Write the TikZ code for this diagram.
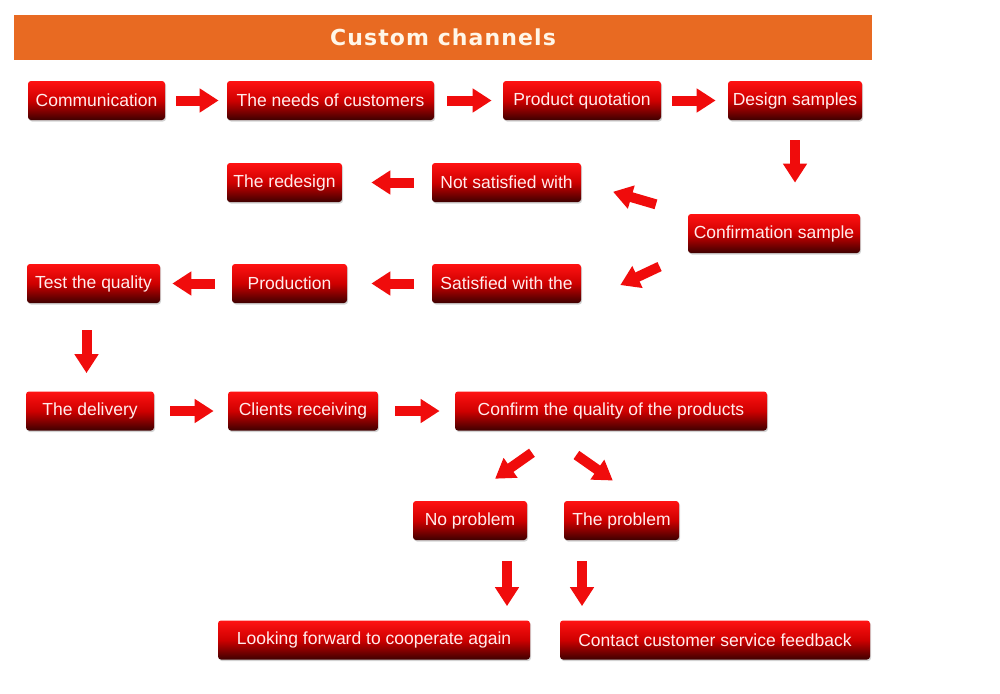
\documentclass[tikz,border=0pt]{standalone}
\usepackage{fontspec}
\usetikzlibrary{arrows.meta,shadows}
\newfontfamily\boxfont{Liberation Sans}
\newfontfamily\titlefont[LetterSpace=5]{DejaVu Sans}

\definecolor{hdrorange}{RGB}{232,106,34}
\definecolor{boxtop}{RGB}{255,18,18}
\definecolor{boxmid}{RGB}{206,0,0}
\definecolor{boxbot}{RGB}{62,0,0}
\definecolor{arrred}{RGB}{240,12,12}
\definecolor{boxtext}{RGB}{255,236,236}
\definecolor{titletext}{RGB}{255,246,232}

\tikzset{every picture/.style={line width=0.75pt}}
\tikzset{
  header/.style={fill=hdrorange, inner sep=0pt, text=titletext,
    font=\titlefont\bfseries\fontsize{22}{24}\selectfont},
  stage/.style={rounded corners=3pt, inner sep=0pt, minimum height=39pt,
    top color=boxtop, bottom color=boxbot, middle color=boxmid, text=boxtext,
    font=\boxfont\fontsize{17.5}{18}\selectfont,
    drop shadow={opacity=0.35, shadow xshift=1pt, shadow yshift=-1.5pt}},
  flow/.style={draw=arrred, line width=10pt, -{Triangle[length=19pt,width=23pt]}},
}

\begin{document}
\begin{tikzpicture}[x=1pt,y=1pt,yscale=-1]
\useasboundingbox (0,0) rectangle (1000,693);

% Header
\node [header, minimum width=858pt, minimum height=45pt] (hdr) at (443,37.5) {Custom channels};

% Boxes
\node [stage, minimum width=137pt] (comm) at (96.5,100.5) {Communication};
\node [stage, minimum width=207pt] (needs) at (330.5,100.5) {The needs of customers};
\node [stage, minimum width=158pt] (quote) at (582,100.5) {Product quotation};
\node [stage, minimum width=134pt] (design) at (795,100.5) {Design samples};
\node [stage, minimum width=115pt] (redesign) at (284.5,182.5) {The redesign};
\node [stage, minimum width=149pt] (notsat) at (506.5,182.5) {Not satisfied with};
\node [stage, minimum width=172pt] (conf) at (774,233.5) {Confirmation sample};
\node [stage, minimum width=133pt] (test) at (93.5,283.5) {Test the quality};
\node [stage, minimum width=115pt] (prod) at (289.5,283.5) {Production};
\node [stage, minimum width=149pt] (sat) at (506.5,283.5) {Satisfied with the};
\node [stage, minimum width=128pt] (deliv) at (90,411) {The delivery};
\node [stage, minimum width=150pt] (clients) at (303,411) {Clients receiving};
\node [stage, minimum width=312pt] (confirm) at (611,411) {Confirm the quality of the products};
\node [stage, minimum width=114pt] (nopb) at (470,520.5) {No problem};
\node [stage, minimum width=115pt] (pb) at (621.5,520.5) {The problem};
\node [stage, minimum width=312pt] (look) at (374,640) {Looking forward to cooperate again};
\node [stage, minimum width=310pt] (contact) at (715,640) {Contact customer service feedback};

% Arrows
\draw [flow, shorten <=11pt, shorten >=8pt] (comm) -- (needs);
\draw [flow, shorten <=13pt, shorten >=11pt] (needs) -- (quote);
\draw [flow, shorten <=11pt, shorten >=12pt] (quote) -- (design);
\draw [flow, shorten <=20pt, shorten >=31pt] (design.south) -- (design.south |- conf.north);
\draw [flow, shorten <=33pt, shorten >=33pt] (conf.north west) -- (notsat.east);
\draw [flow, shorten <=18pt, shorten >=29pt] (notsat) -- (redesign);
\draw [flow, shorten <=31pt, shorten >=43pt] (conf.south west) -- (sat.south east);
\draw [flow, shorten <=18pt, shorten >=24pt] (sat) -- (prod);
\draw [flow, shorten <=17pt, shorten >=12pt] (prod) -- (test);
\draw [flow, shorten <=27pt, shorten >=18pt] ([xshift=-7pt]test.south) -- ([xshift=-7pt]test.south |- deliv.north);
\draw [flow, shorten <=16pt, shorten >=14pt] (deliv) -- (clients);
\draw [flow, shorten <=17pt, shorten >=15pt] (clients) -- (confirm);
\draw [flow, shorten <=38pt, shorten >=38pt] ([xshift=-48pt]confirm.south) -- ([xshift=-6pt]nopb.north);
\draw [flow, shorten <=42pt, shorten >=35pt] ([xshift=-69pt]confirm.south) -- ([xshift=20pt]pb.north);
\draw [flow, shorten <=21pt, shorten >=14pt] ([xshift=37pt]nopb.south) -- ([xshift=37pt]nopb.south |- look.north);
\draw [flow, shorten <=21pt, shorten >=14pt] ([xshift=-39.5pt]pb.south) -- ([xshift=-39.5pt]pb.south |- contact.north);

\end{tikzpicture}
\end{document}
